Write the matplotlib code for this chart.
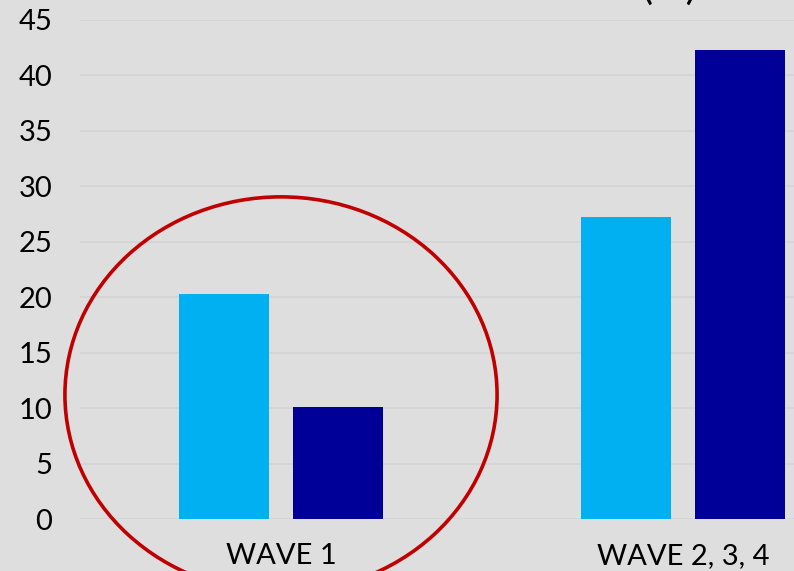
import matplotlib.pyplot as plt
from matplotlib.patches import Ellipse
import numpy as np

categories = ["WAVE 1", "WAVE 2, 3, 4"]
series_a = [20.3, 27.2]
series_b = [10.1, 42.3]
yticks = [0, 5, 10, 15, 20, 25, 30, 35, 40, 45]

bg = "#dedede"
plt.rcParams['font.family'] = ['Lato', 'DejaVu Sans']

fig = plt.figure(figsize=(7.94, 5.71), dpi=100, facecolor=bg)
W, H = 794, 571
# axes runs past the right edge of the picture (cropped slide)
ax = fig.add_axes([80 / W, 1 - 519 / H, 804 / W, 499 / H], facecolor=bg)

x = np.arange(len(categories))
w = 0.224
off = 0.142
ax.bar(x - off, series_a, w, color="#00b0f0", zorder=3)
ax.bar(x + off, series_b, w, color="#000099", zorder=3)

ax.set_xlim(-0.5, 1.5)
ax.set_ylim(0, 45)
ax.set_yticks(yticks)
ax.set_xticks(x)
ax.set_xticklabels(categories)
ax.grid(axis="y", color="#d4d4d4", linewidth=1.2, zorder=0)
for s in ax.spines.values():
    s.set_visible(False)
ax.tick_params(axis="both", length=0, labelsize=21, colors="black")
ax.tick_params(axis="y", pad=20)
ax.tick_params(axis="x", pad=17)

# red circle around wave 1
ell = Ellipse((0, 11.2), 1.075, 35.7, fill=False, edgecolor="#c00000",
              linewidth=2.6, clip_on=False, zorder=4)
ax.add_patch(ell)

fig.text(669 / W, 1 + 1 / H, "(%)", fontsize=30, ha="center", va="baseline")

fig.savefig("out.png", dpi=100, facecolor=bg)
